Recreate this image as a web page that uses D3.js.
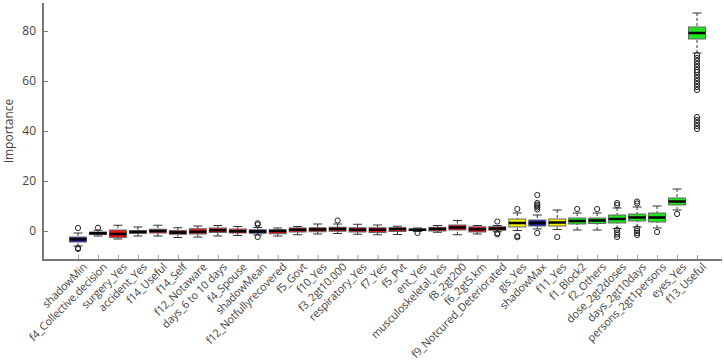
<!DOCTYPE html>
<html lang="en">
<head>
<meta charset="UTF-8">
<title>importance</title>
<script src="https://cdn.jsdelivr.net/npm/d3@7"></script>
<style>
  body { margin: 0; background: #fff; }
  text { font-family: "Open Sans", "Noto Sans", sans-serif; fill: #444; }
</style>
</head>
<body>
<svg width="724" height="360" id="mainsvg"></svg>
<script>
const categories = ["shadowMin", "f4_Collective.decision", "surgery_Yes", "accident_Yes", "f14_Useful", "f14_Self",
  "f12_Notaware", "days_6 to 10 days", "f4_Spouse", "shadowMean", "f12_Notfullyrecovered", "f5_Govt", "f10_Yes",
  "f3_2gt10.000", "respiratory_Yes", "f7_Yes", "f5_Pvt", "ent_Yes", "musculoskeletal_Yes", "f8_2gt200", "f6_2gt5.km",
  "f9_Notcured_Deteriorated", "gis_Yes", "shadowMax", "f11_Yes", "f1_Block2", "f2_Others", "dose_2gt2doses",
  "days_2gt10days", "persons_2gt1persons", "eyes_Yes", "f13_Useful"];
// S = shadow, R = rejected, T = tentative, C = confirmed
const decisions = ["S", "R", "R", "R", "R", "R", "R", "R", "R", "S", "R", "R", "R", "R", "R", "R", "R", "R", "R", "R", "R",
  "R", "T", "S", "T", "C", "C", "C", "C", "C", "C", "C"];
const whiskerLow = [-6, -2, -3.2, -2, -2, -2.6, -2.4, -2, -1.8, -1.6, -2, -1.5, -1.2, -1, -1.3, -1.5, -1.4, -0.2, -0.5, -1.5, -1.2,
  -0.3, 0.2, 0.8, 0.6, 0.4, 0.4, 1, 1.6, 1.2, 8.4, 71.2];
const q1 = [-4.4, -1.4, -2.6, -0.9, -0.8, -1.3, -1.2, -0.6, -0.8, -0.9, -1.1, -0.4, -0.3, -0.1, -0.4, -0.6, -0.2, 0.2, 0, 0.4, -0.4,
  0.3, 1.6, 2.0, 2.0, 2.8, 3.0, 3.2, 4.0, 3.6, 10.4, 76.8];
const medians = [-3.3, -0.9, -1.2, -0.4, 0, -0.6, -0.3, 0.3, -0.1, -0.2, 0, 0.5, 0.6, 0.8, 0.5, 0.5, 0.8, 0.5, 0.8, 1.4, 0.7,
  1.0, 3.2, 3.2, 3.4, 4.0, 4.2, 4.8, 5.4, 5.4, 11.8, 79.2];
const q3 = [-2.4, -0.4, 0.4, 0.2, 0.7, 0.2, 0.9, 1.2, 0.8, 0.5, 0.5, 1.2, 1.3, 1.5, 1.3, 1.3, 1.3, 0.8, 1.5, 2.4, 1.7,
  1.7, 4.8, 4.4, 4.8, 5.2, 5.2, 6.4, 6.8, 7.2, 13.2, 81.6];
const whiskerHigh = [-0.8, 0.3, 2.3, 1.6, 2.3, 1.3, 2.0, 2.2, 1.8, 1.4, 1.2, 1.8, 2.8, 2.8, 2.7, 2.4, 1.9, 1.2, 2.2, 4.2, 2.2,
  2.2, 7.2, 6.4, 8.4, 7.2, 7.2, 9.2, 9.6, 10, 16.8, 87.2];
const outliers = [[1.2, -6.8, -7.2], [1.3], [], [], [], [], [], [], [], [2.6, 3.1, -2.4], [], [], [], [4.2], [], [], [], [-0.8], [], [], [],
  [3.8, -0.9, -1.3], [8.8, -2.0, -2.5], [8.6, 9.4, 10.0, 10.6, 11.2, 14.4, -0.8], [-2.4], [8.8], [8.8],
  [10.4, 11.2, 0.4, -0.6, -1.4, -2.4], [11.0, 11.8, 1.0, 0, -0.8, -1.6], [-0.4], [6.8],
  [70.4, 69.2, 68.0, 66.8, 65.6, 64.4, 63.6, 62.4, 61.2, 60.0, 58.8, 57.6, 56.4, 45.6, 44.4, 43.2, 42.0, 40.8]];
const yTicks = [0, 20, 40, 60, 80];

const fillColor = { S: "#1a1aa6", R: "#ee1111", T: "#f2f200", C: "#1fe41f" };

const svg = d3.select('#mainsvg');
const axisLeftX = 43, axisBottomY = 260;

const x = d3.scalePoint().domain(categories).range([78, 697]);
const y = d3.scaleLinear().domain([-11.6, 91.2]).range([axisBottomY, 3]);

const data = categories.map((c, i) => ({
  name: c, dec: decisions[i], lo: whiskerLow[i], q1: q1[i], med: medians[i], q3: q3[i], hi: whiskerHigh[i], out: outliers[i]
}));

const boxW = 17, capW = 9;

// axes
const yAxis = d3.axisLeft(y).tickValues(yTicks).tickSize(-5).tickPadding(7);
const yg = svg.append('g').attr('transform', `translate(${axisLeftX},0)`).call(yAxis);
yg.select('.domain').remove();
yg.selectAll('.tick line').attr('stroke', '#777');
yg.selectAll('.tick text').attr('font-size', 12).attr('fill', '#444');

const xAxis = d3.axisBottom(x).tickSize(-5).tickFormat('');
const xg = svg.append('g').attr('transform', `translate(0,${axisBottomY})`).call(xAxis);
xg.select('.domain').remove();
xg.selectAll('.tick line').attr('stroke', '#999');

svg.append('line').attr('x1', axisLeftX).attr('x2', axisLeftX).attr('y1', 3).attr('y2', axisBottomY + 1)
  .attr('stroke', '#777').attr('stroke-width', 2);
svg.append('line').attr('x1', axisLeftX).attr('x2', 722).attr('y1', axisBottomY).attr('y2', axisBottomY)
  .attr('stroke', '#777').attr('stroke-width', 2);

// x labels
svg.append('g').selectAll('text').data(categories).join('text')
  .attr('transform', d => `translate(${x(d) + 7},${axisBottomY + 5}) rotate(-45)`)
  .attr('text-anchor', 'end')
  .attr('dy', '0.35em')
  .attr('font-size', 11)
  .attr('letter-spacing', -0.2)
  .text(d => d);

svg.append('text')
  .attr('transform', `translate(13,${y(40)}) rotate(-90)`)
  .attr('text-anchor', 'middle')
  .attr('font-size', 12)
  .text('Importance');

// boxes
const boxes = svg.append('g').selectAll('g').data(data).join('g')
  .attr('transform', d => `translate(${x(d.name)},0)`);

boxes.append('line').attr('y1', d => y(d.hi)).attr('y2', d => y(d.q3))
  .attr('stroke', '#333').attr('stroke-dasharray', '3,2');
boxes.append('line').attr('y1', d => y(d.lo)).attr('y2', d => y(d.q1))
  .attr('stroke', '#333').attr('stroke-dasharray', '3,2');
boxes.append('line').attr('x1', -capW / 2).attr('x2', capW / 2).attr('y1', d => y(d.hi)).attr('y2', d => y(d.hi))
  .attr('stroke', '#333');
boxes.append('line').attr('x1', -capW / 2).attr('x2', capW / 2).attr('y1', d => y(d.lo)).attr('y2', d => y(d.lo))
  .attr('stroke', '#333');
boxes.append('rect')
  .attr('x', -boxW / 2).attr('width', boxW)
  .attr('y', d => y(d.q3)).attr('height', d => Math.max(1, y(d.q1) - y(d.q3)))
  .attr('fill', d => fillColor[d.dec]).attr('stroke', '#666').attr('stroke-width', 1);
boxes.append('line').attr('x1', -boxW / 2).attr('x2', boxW / 2).attr('y1', d => y(d.med)).attr('y2', d => y(d.med))
  .attr('stroke', '#000').attr('stroke-width', 2.5);
boxes.selectAll('circle').data(d => d.out).join('circle')
  .attr('cy', d => y(d)).attr('r', 2.6)
  .attr('fill', 'none').attr('stroke', '#222').attr('stroke-width', 1);
</script>
</body>
</html>
